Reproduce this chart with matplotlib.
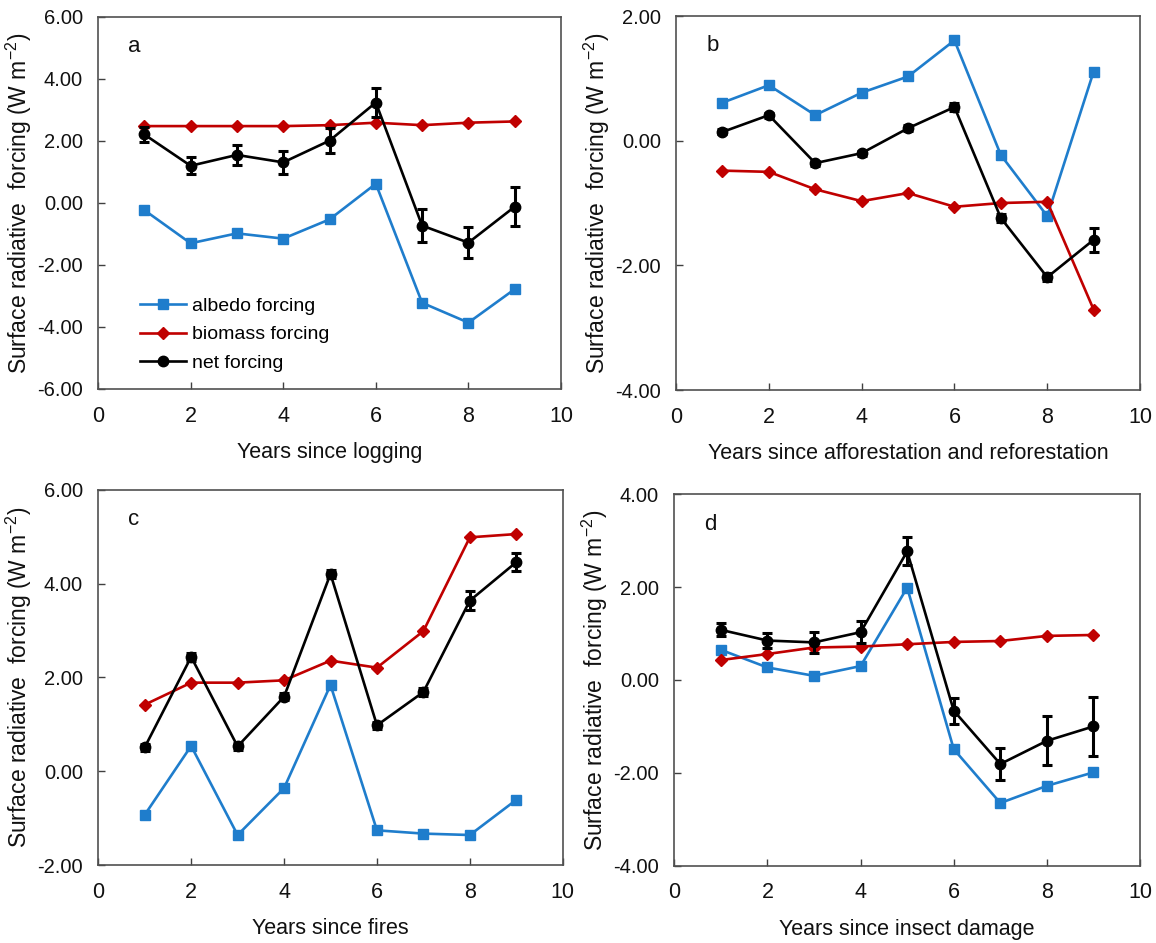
import matplotlib
matplotlib.use("Agg")
import matplotlib.pyplot as plt
from matplotlib.ticker import FormatStrFormatter
from matplotlib.lines import Line2D

plt.rcParams['font.family'] = ['Liberation Sans', 'DejaVu Sans']
plt.rcParams['axes.unicode_minus'] = False
plt.rcParams['mathtext.fontset'] = 'custom'
plt.rcParams['mathtext.rm'] = 'Liberation Sans'
plt.rcParams['mathtext.it'] = 'Liberation Sans:italic'
plt.rcParams['mathtext.bf'] = 'Liberation Sans:bold'

years = [1, 2, 3, 4, 5, 6, 7, 8, 9]

# Panel a: logging
a_albedo = [-0.23, -1.30, -0.98, -1.15, -0.53, 0.62, -3.22, -3.86, -2.78]
a_biomass = [2.48, 2.48, 2.48, 2.48, 2.51, 2.59, 2.51, 2.59, 2.63]
a_net = [2.21, 1.20, 1.55, 1.31, 2.01, 3.24, -0.73, -1.28, -0.12]
a_err = [0.25, 0.28, 0.31, 0.38, 0.40, 0.47, 0.53, 0.50, 0.63]

# Panel b: afforestation and reforestation
b_albedo = [0.61, 0.89, 0.41, 0.77, 1.03, 1.61, -0.23, -1.21, 1.11]
b_biomass = [-0.48, -0.50, -0.78, -0.97, -0.84, -1.06, -1.00, -0.98, -2.71]
b_net = [0.14, 0.41, -0.36, -0.20, 0.20, 0.54, -1.24, -2.19, -1.59]
b_err = [0.04, 0.04, 0.04, 0.04, 0.05, 0.06, 0.07, 0.06, 0.19]

# Panel c: fires
c_albedo = [-0.93, 0.54, -1.36, -0.36, 1.84, -1.26, -1.33, -1.36, -0.61]
c_biomass = [1.42, 1.89, 1.89, 1.94, 2.36, 2.21, 2.99, 4.99, 5.06]
c_net = [0.51, 2.44, 0.53, 1.59, 4.21, 0.98, 1.69, 3.64, 4.46]
c_err = [0.08, 0.08, 0.08, 0.08, 0.08, 0.08, 0.09, 0.21, 0.19]

# Panel d: insect damage
d_albedo = [0.65, 0.27, 0.09, 0.30, 1.99, -1.49, -2.65, -2.28, -1.99]
d_biomass = [0.43, 0.56, 0.70, 0.72, 0.77, 0.82, 0.84, 0.95, 0.97]
d_net = [1.08, 0.85, 0.81, 1.03, 2.77, -0.66, -1.81, -1.31, -1.00]
d_err = [0.14, 0.17, 0.22, 0.24, 0.30, 0.28, 0.34, 0.53, 0.64]

xlabels = ['Years since logging', 'Years since afforestation and reforestation',
           'Years since fires', 'Years since insect damage']
series_labels = ['albedo forcing', 'biomass forcing', 'net forcing']
letters = ['a', 'b', 'c', 'd']
ylims = [(-6, 6), (-4, 2), (-2, 6), (-4, 4)]
ystep = 2

BLUE = '#1f7dcc'
RED = '#c00000'
FS = 15.5

fig = plt.figure(figsize=(11.56, 9.43), dpi=100)
positions = [
    [0.0848, 0.5875, 0.4005, 0.3945],
    [0.5848, 0.5864, 0.4014, 0.3966],
    [0.0850, 0.0827, 0.4018, 0.3977],
    [0.5833, 0.0820, 0.4029, 0.3938],
]

data = [
    (a_albedo, a_biomass, a_net, a_err),
    (b_albedo, b_biomass, b_net, b_err),
    (c_albedo, c_biomass, c_net, c_err),
    (d_albedo, d_biomass, d_net, d_err),
]

for i in range(4):
    ax = fig.add_axes(positions[i])
    alb, bio, net, err = data[i]
    ax.plot(years, alb, color=BLUE, marker='s', markersize=7.5, lw=1.9, zorder=3)
    ax.plot(years, bio, color=RED, marker='D', markersize=6, lw=1.9, zorder=3)
    ax.errorbar(years, net, yerr=err, color='black', marker='o', markersize=7.5, lw=1.9,
                elinewidth=2.2, capsize=3.5, capthick=2.2, zorder=4)
    lo, hi = ylims[i]
    ax.set_ylim(lo, hi)
    ax.set_xlim(0, 10)
    ax.set_xticks(range(0, 11, 2))
    ax.set_yticks([lo + k * ystep for k in range(int((hi - lo) / ystep) + 1)])
    ax.yaxis.set_major_formatter(FormatStrFormatter('%.2f'))
    ax.tick_params(direction='in', length=5, width=1, labelsize=14.5, colors='#404040',
                   labelcolor='#111111')
    ax.tick_params(axis='y', pad=11)
    ax.tick_params(axis='x', pad=12, labelsize=15.5)
    for s in ax.spines.values():
        s.set_color('#505050')
        s.set_linewidth(1.2)
    ax.set_xlabel(xlabels[i], fontsize=FS, labelpad=11, color='#111111')
    ax.set_ylabel('Surface radiative  forcing (W m$^{-2}$)', fontsize=16.5, color='#111111')
    ax.yaxis.set_label_coords(-0.138, 0.5)
    ax.text(0.065, 0.92, letters[i], transform=ax.transAxes, fontsize=16, va='center',
            ha='left', color='#111111')
    if i == 0:
        handles = [
            Line2D([], [], color=BLUE, marker='s', markersize=7.5, lw=1.9),
            Line2D([], [], color=RED, marker='D', markersize=6, lw=1.9),
            Line2D([], [], color='black', marker='o', markersize=7.5, lw=1.9),
        ]
        ax.legend(handles, series_labels, loc='lower left', bbox_to_anchor=(0.065, 0.015),
                  frameon=False, fontsize=14, handlelength=2.4, handletextpad=0.3,
                  labelspacing=0.55, borderaxespad=0.2)

fig.savefig('out.png', dpi=100)
